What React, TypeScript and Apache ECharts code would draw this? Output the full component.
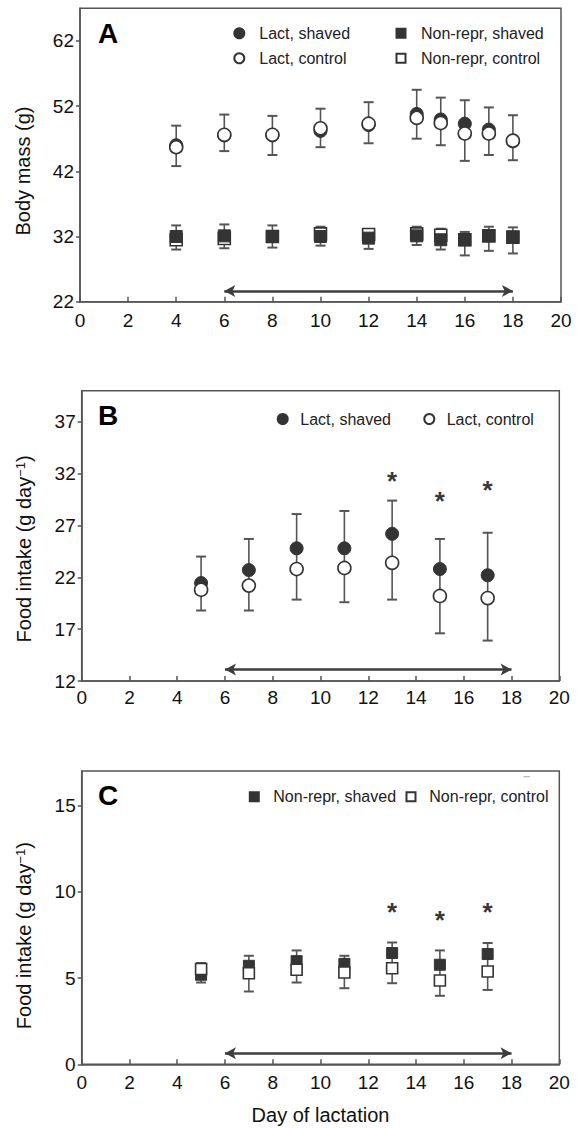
import React, { useEffect, useRef } from 'react';
import * as echarts from 'echarts';

const FONT = '"Liberation Sans", Arial, Helvetica, sans-serif';
const DARK = '#343434';
const BAR = '#555555';

// ---------- Panel A: body mass ----------
const daysA = [4, 6, 8, 10, 12, 14, 15, 16, 17, 18];
const lactShavedA = [46.0, 47.5, 47.5, 48.2, 49.1, 50.8, 49.95, 49.3, 48.4, 46.6];
const lactControlA = [45.7, 47.6, 47.6, 48.6, 49.3, 50.2, 49.4, 47.8, 47.8, 46.7];
const lactErrHighA = [49.0, 50.7, 50.5, 51.6, 52.6, 54.5, 53.3, 52.9, 51.8, 50.6];
const lactErrLowA = [42.8, 45.1, 44.5, 45.7, 46.3, 47.0, 46.0, 43.6, 44.5, 43.7];
const nonReprShavedA = [32.0, 32.1, 32.0, 32.0, 31.75, 32.1, 31.5, 31.5, 32.15, 31.9];
const nonReprControlA = [31.5, 31.7, 32.0, 32.4, 32.3, 32.4, 32.2, 31.5, 32.1, 31.9];
const nonReprErrHighA = [33.7, 33.85, 33.7, 33.5, 33.1, 33.5, 33.2, 32.7, 33.5, 33.4];
const nonReprErrLowA = [30.0, 30.2, 30.3, 30.6, 30.1, 30.7, 30.0, 29.1, 29.8, 29.4];
const yTicksA = [22, 32, 42, 52, 62];
const arrowA = 23.65;

// ---------- Panel B: food intake, lactating ----------
const daysB = [5, 7, 9, 11, 13, 15, 17];
const lactShavedB = [21.45, 22.7, 24.8, 24.8, 26.2, 22.8, 22.2];
const lactControlB = [20.8, 21.2, 22.8, 22.9, 23.4, 20.2, 20.0];
const lactErrHighB = [24.0, 25.7, 28.1, 28.4, 29.4, 25.7, 26.3];
const lactErrLowB = [18.8, 18.8, 19.85, 19.6, 19.85, 16.6, 15.9];
const starDaysB = [13, 15, 17];
const starValsB = [31.7, 29.7, 30.8];
const yTicksB = [12, 17, 22, 27, 32, 37];
const arrowB = 13.1;

// ---------- Panel C: food intake, non-reproductive ----------
const daysC = [5, 7, 9, 11, 13, 15, 17];
const nonReprShavedC = [5.19, 5.71, 5.98, 5.82, 6.45, 5.77, 6.39];
const nonReprControlC = [5.52, 5.28, 5.48, 5.32, 5.57, 4.86, 5.38];
const nonReprErrHighC = [5.87, 6.29, 6.6, 6.29, 7.06, 6.6, 7.03];
const nonReprErrLowC = [4.74, 4.22, 4.74, 4.41, 4.7, 3.97, 4.31];
const starDaysC = [13, 15, 17];
const starValsC = [9.06, 8.57, 9.06];
const yTicksC = [0, 5, 10, 15];
const arrowC = 0.64;

const treatStart = 6;
const treatEnd = 18;

const filledStyle = { color: DARK, borderColor: DARK, borderWidth: 1, opacity: 1 };
const openStyle = { color: '#ffffff', borderColor: DARK, borderWidth: 1.6, opacity: 1 };
const filledCircle = { symbol: 'circle', symbolSize: 13, itemStyle: filledStyle };
const openCircle = { symbol: 'circle', symbolSize: 13, itemStyle: openStyle };
const filledSquareA = { symbol: 'rect', symbolSize: 12, itemStyle: filledStyle };
const openSquareA = { symbol: 'rect', symbolSize: 12, itemStyle: openStyle };
const filledSquareC = { symbol: 'rect', symbolSize: 11, itemStyle: filledStyle };
const openSquareC = { symbol: 'rect', symbolSize: 11, itemStyle: openStyle };

function pts(days: number[], vals: number[]) {
  return days.map((d, i) => [d, vals[i]]);
}

function scatter(name: string, days: number[], vals: number[], gi: number, style: any, z: number) {
  return {
    type: 'scatter',
    name,
    xAxisIndex: gi,
    yAxisIndex: gi,
    z,
    silent: true,
    ...style,
    data: pts(days, vals),
  };
}

function errBars(days: number[], lo: number[], hi: number[], gi: number) {
  return {
    type: 'custom',
    xAxisIndex: gi,
    yAxisIndex: gi,
    z: 1,
    silent: true,
    encode: { x: 0, y: [1, 2] },
    data: days.map((d, i) => [d, lo[i], hi[i]]),
    renderItem: (params: any, api: any) => {
      const x = api.value(0);
      const pLo = api.coord([x, api.value(1)]);
      const pHi = api.coord([x, api.value(2)]);
      const hw = 5;
      return {
        type: 'group',
        children: [
          { type: 'line', shape: { x1: pLo[0], y1: pLo[1], x2: pHi[0], y2: pHi[1] }, style: { stroke: BAR, lineWidth: 1.6 } },
          { type: 'line', shape: { x1: pLo[0] - hw, y1: pLo[1], x2: pLo[0] + hw, y2: pLo[1] }, style: { stroke: BAR, lineWidth: 2 } },
          { type: 'line', shape: { x1: pHi[0] - hw, y1: pHi[1], x2: pHi[0] + hw, y2: pHi[1] }, style: { stroke: BAR, lineWidth: 2 } },
        ],
      };
    },
  };
}

function stars(days: number[], vals: number[], gi: number) {
  return {
    type: 'scatter',
    xAxisIndex: gi,
    yAxisIndex: gi,
    z: 5,
    silent: true,
    symbolSize: 1,
    itemStyle: { color: 'rgba(0,0,0,0)' },
    label: { show: true, formatter: '*', position: 'inside', fontSize: 26, fontWeight: 'bold', color: '#000', fontFamily: FONT, offset: [0, 4] },
    data: pts(days, vals),
  };
}

function arrow(v: number, gi: number) {
  return {
    type: 'line',
    xAxisIndex: gi,
    yAxisIndex: gi,
    data: [],
    silent: true,
    markLine: {
      silent: true,
      animation: false,
      symbol: ['arrow', 'arrow'],
      symbolSize: [9, 11],
      label: { show: false },
      emphasis: { disabled: true },
      lineStyle: { color: '#3d3d3d', width: 2.5, type: 'solid' },
      data: [[{ coord: [treatStart, v] }, { coord: [treatEnd, v] }]],
    },
  };
}

const axisLineStyle = { color: BAR, width: 1.5 };

function xAxis(gi: number, margin: number, withName: boolean) {
  return {
    type: 'value',
    gridIndex: gi,
    min: 0,
    max: 20,
    interval: 2,
    axisLine: { show: true, lineStyle: axisLineStyle },
    axisTick: { show: true, inside: true, length: 5, lineStyle: axisLineStyle },
    axisLabel: { fontSize: 19, color: '#111', fontFamily: FONT, margin },
    splitLine: { show: false },
    name: withName ? 'Day of lactation' : '',
    nameLocation: 'middle',
    nameGap: 41,
    nameTextStyle: { fontSize: 20, color: '#111', fontFamily: FONT },
  };
}

function yAxis(gi: number, min: number, max: number, ticks: number[], name: string, nameGap: number, shift: number, rich?: any) {
  return {
    type: 'value',
    gridIndex: gi,
    min,
    max,
    axisLine: { show: true, lineStyle: axisLineStyle },
    axisTick: { show: true, inside: false, length: 4, lineStyle: axisLineStyle, customValues: ticks },
    axisLabel: { fontSize: 19, color: '#111', fontFamily: FONT, margin: 6, customValues: ticks },
    splitLine: { show: false },
    name,
    nameLocation: 'middle',
    nameGap,
    nameTextStyle: { fontSize: 20, color: '#111', fontFamily: FONT, padding: [0, shift * 2, 0, 0], rich },
  };
}

const foodRich = {
  a: { fontSize: 20, color: '#111', fontFamily: FONT },
  s: { fontSize: 13, color: '#111', fontFamily: FONT, verticalAlign: 'top', lineHeight: 14 },
};
const foodName = '{a|Food intake (g day}{s|−1}{a|)}';

function legend(names: string[], left: number, top: number, size: number, textGap: number, orient: string) {
  return {
    data: names,
    left,
    top,
    orient,
    itemWidth: size,
    itemHeight: size,
    itemGap: 9,
    selectedMode: false,
    textStyle: { fontSize: 16, color: '#222', fontFamily: FONT, padding: [0, 0, 0, textGap] },
    padding: 0,
  };
}

export default function App() {
  const ref = useRef<HTMLDivElement>(null);

  useEffect(() => {
    if (!ref.current) return;
    const chart = echarts.init(ref.current, null, { renderer: 'svg', width: 577, height: 1128 });
    const gridStyle = { show: true, borderColor: BAR, borderWidth: 1.5, backgroundColor: 'transparent' };
    const option: any = {
      animation: false,
      backgroundColor: '#ffffff',
      grid: [
        { ...gridStyle, left: 80, top: 8.3, width: 481, height: 293.4 },
        { ...gridStyle, left: 81.7, top: 390.7, width: 477.6, height: 290.3 },
        { ...gridStyle, left: 81.7, top: 771, width: 477.6, height: 293.3 },
      ],
      xAxis: [xAxis(0, 9, false), xAxis(1, 7, false), xAxis(2, 9, true)],
      yAxis: [
        yAxis(0, 22, 67, yTicksA, 'Body mass (g)', 47, 16),
        yAxis(1, 12, 40, yTicksB, foodName, 48, 13, foodRich),
        yAxis(2, 0, 17, yTicksC, foodName, 48, 18, foodRich),
      ],
      legend: [
        legend(['Lact, shaved', 'Lact, control'], 233.3, 25.3, 10, 10, 'vertical'),
        legend(['Non-repr, shaved', 'Non-repr, control'], 395.5, 25.3, 9, 10.5, 'vertical'),
        legend(['Lact, shaved'], 276.7, 411, 10, 7.6, 'horizontal'),
        legend(['Lact, control'], 423.3, 411, 10, 7.4, 'horizontal'),
        legend(['Non-repr, shaved'], 248.8, 788.7, 9, 9.5, 'horizontal'),
        legend(['Non-repr, control'], 405.5, 788.7, 9, 8.8, 'horizontal'),
      ],
      graphic: [
        { type: 'text', x: 98, y: 33.5, style: { text: 'A', fontSize: 28, fontWeight: 'bold', fontFamily: FONT, fill: '#000', verticalAlign: 'middle', align: 'left' } },
        { type: 'text', x: 98, y: 415.3, style: { text: 'B', fontSize: 28, fontWeight: 'bold', fontFamily: FONT, fill: '#000', verticalAlign: 'middle', align: 'left' } },
        { type: 'text', x: 98, y: 795, style: { text: 'C', fontSize: 28, fontWeight: 'bold', fontFamily: FONT, fill: '#000', verticalAlign: 'middle', align: 'left' } },
        { type: 'line', shape: { x1: 523.5, y1: 776.7, x2: 530, y2: 776.7 }, style: { stroke: '#aaaaaa', lineWidth: 1 } },
      ],
      series: [
        // Panel A
        errBars(daysA, lactErrLowA, lactErrHighA, 0),
        errBars(daysA, nonReprErrLowA, nonReprErrHighA, 0),
        scatter('Lact, shaved', daysA, lactShavedA, 0, filledCircle, 2),
        scatter('Lact, control', daysA, lactControlA, 0, openCircle, 3),
        scatter('Non-repr, control', daysA, nonReprControlA, 0, openSquareA, 2),
        scatter('Non-repr, shaved', daysA, nonReprShavedA, 0, filledSquareA, 3),
        arrow(arrowA, 0),
        // Panel B
        errBars(daysB, lactErrLowB, lactErrHighB, 1),
        scatter('Lact, shaved', daysB, lactShavedB, 1, filledCircle, 2),
        scatter('Lact, control', daysB, lactControlB, 1, openCircle, 3),
        stars(starDaysB, starValsB, 1),
        arrow(arrowB, 1),
        // Panel C
        errBars(daysC, nonReprErrLowC, nonReprErrHighC, 2),
        scatter('Non-repr, shaved', daysC, nonReprShavedC, 2, filledSquareC, 2),
        scatter('Non-repr, control', daysC, nonReprControlC, 2, openSquareC, 3),
        stars(starDaysC, starValsC, 2),
        arrow(arrowC, 2),
      ],
    };
    chart.setOption(option);
    return () => chart.dispose();
  }, []);

  return (
    <div
      ref={ref}
      style={{ position: 'absolute', left: 0, top: 0, width: 577, height: 1128, background: '#fff' }}
    />
  );
}
